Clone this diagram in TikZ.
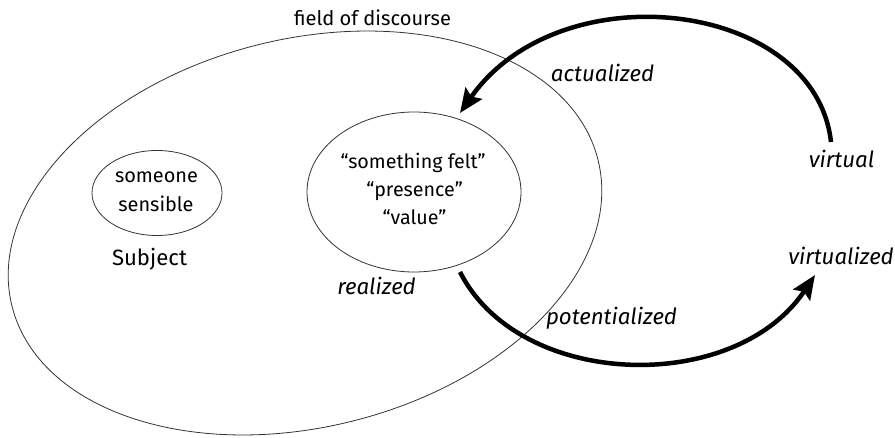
\documentclass[tikz,border=0pt]{standalone}
\usepackage{fontspec}
\setmainfont{Fira Sans}
\usetikzlibrary{shapes.geometric,arrows.meta}
\newlength\fitlen
\newcommand\calcsize[4]{%
  \settowidth\fitlen{#2\fontsize{10pt}{12pt}\selectfont #4}%
  \pgfmathsetmacro#1{10*#3/\fitlen}\global\let#1#1}
\AtBeginDocument{%
  \calcsize\szField{}{157}{field of discourse}%
  \calcsize\szSubj{}{75}{Subject}%
  \calcsize\szIn{}{83}{someone}%
  \calcsize\szVal{}{145}{“something felt”}%
  \calcsize\szIt{\itshape}{131}{potentialized}}
\begin{document}
\begin{tikzpicture}[x=1pt,y=-1pt,
  ell/.style={draw=black!80, line width=0.8pt, ellipse, inner sep=0pt},
  txt/.style={inner sep=0pt, anchor=base},
  bigarrow/.style={line width=4.5pt, -{Stealth[length=24pt,width=20pt,inset=4pt]}},
  fieldfont/.style={font=\fontsize{\szField pt}{\szField pt}\selectfont},
  subjfont/.style={font=\fontsize{\szSubj pt}{\szSubj pt}\selectfont},
  infont/.style={font=\fontsize{\szIn pt}{\szIn pt}\selectfont},
  valfont/.style={font=\fontsize{\szVal pt}{\szVal pt}\selectfont},
  itfont/.style={font=\itshape\fontsize{\szIt pt}{\szIt pt}\selectfont}]
\useasboundingbox (0,0) rectangle (895,438);
% big field ellipse
\node[ell, minimum width=604pt, minimum height=388pt, rotate=14] (field) at (305,233) {};
\node[txt, fieldfont] (fieldlbl) at (372.5,26) {field of discourse};
% subject ellipse
\node[ell, minimum width=130pt, minimum height=85pt] (subj) at (157,193) {};
\node[txt, infont] (some) at (156.5,183) {someone};
\node[txt, infont] (sens) at (156,212) {sensible};
\node[txt, subjfont] (subjlbl) at (149.5,266) {Subject};
% value ellipse
\node[ell, minimum width=214pt, minimum height=160pt] (val) at (414,192) {};
\node[txt, valfont] (felt) at (413,169) {“something felt”};
\node[txt, valfont] (pres) at (414.5,197) {“presence”};
\node[txt, valfont] (valu) at (414.5,225) {“value”};
% labels
\node[txt, itfont] (act) at (602.5,82) {actualized};
\node[txt, itfont] (virt) at (841.5,168) {virtual};
\node[txt, itfont] (virtz) at (841,265) {virtualized};
\node[txt, itfont] (real) at (376.5,295) {realized};
\node[txt, itfont] (pot) at (611.5,325) {potentialized};
% arrows
\coordinate (a0) at (831,142);
\coordinate (a1) at (460,113);
\coordinate (b0) at (460,272);
\coordinate (b1) at (815,275);
\draw[bigarrow] (a0) .. controls (815,0) and (560,-30) .. (a1);
\draw[bigarrow] (b0) .. controls (520,390) and (735,395) .. (b1);
\end{tikzpicture}
\end{document}
